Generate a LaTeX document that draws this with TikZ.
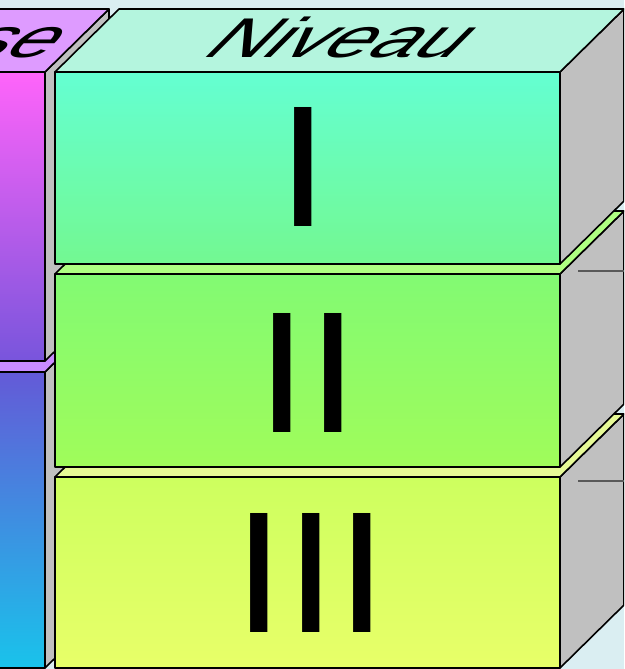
\documentclass[tikz,border=0pt]{standalone}
\usepackage{fontspec}
\setmainfont{Liberation Sans}
\definecolor{bgblue}{RGB}{218,238,242}
\definecolor{sidegray}{RGB}{192,192,192}
\definecolor{maintop}{RGB}{180,245,222}
\definecolor{oneup}{RGB}{100,255,210}
\definecolor{onedown}{RGB}{115,248,145}
\definecolor{twotop}{RGB}{175,255,130}
\definecolor{twoup}{RGB}{130,250,115}
\definecolor{twodown}{RGB}{160,252,90}
\definecolor{threetop}{RGB}{230,250,150}
\definecolor{threeup}{RGB}{205,255,95}
\definecolor{threedown}{RGB}{232,255,105}
\definecolor{lefttop}{RGB}{222,155,255}
\definecolor{upperup}{RGB}{255,100,250}
\definecolor{upperdown}{RGB}{120,85,220}
\definecolor{lowertop}{RGB}{200,140,255}
\definecolor{lowerup}{RGB}{100,90,215}
\definecolor{lowerdown}{RGB}{25,195,235}

\begin{document}
\begin{tikzpicture}[x=1pt,y=1pt,line width=1.6pt,line join=round]
\tikzset{
  tilted/.style={inner sep=0pt,font=\fontsize{56}{60}\selectfont,transform shape},
  roman/.style={anchor=base,inner sep=0pt,font=\fontsize{173}{180}\selectfont,transform shape},
  sideline/.style={line width=1.2pt,black!65}
}
\useasboundingbox (0,0) rectangle (624,669);
\clip (0,0) rectangle (624,669);
\fill[bgblue] (0,0) rectangle (624,669);
\def\dx{64}
\def\dy{63}
% left column
\foreach \yb/\yt/\ctop/\cup/\cdown in {1/297/lowertop/lowerup/lowerdown, 308/597/lefttop/upperup/upperdown} {
  \draw[fill=sidegray] (45,\yb) -- (45,\yt) -- ++(\dx,\dy) -- (45+\dx,\yb+\dy) -- cycle;
  \draw[fill=\ctop] (-80,\yt) -- (45,\yt) -- ++(\dx,\dy) -- (-80+\dx,\yt+\dy) -- cycle;
  \draw[top color=\cup,bottom color=\cdown] (-80,\yb) rectangle (45,\yt);
}
% main column, levels III, II, I
\foreach \yb/\yt/\ctop/\cup/\cdown in {1/192/threetop/threeup/threedown, 202/395/twotop/twoup/twodown, 405/597/maintop/oneup/onedown} {
  \draw[fill=sidegray] (560,\yb) -- (560,\yt) -- ++(\dx,\dy) -- (560+\dx,\yb+\dy) -- cycle;
  \draw[fill=\ctop] (55,\yt) -- (560,\yt) -- ++(\dx,\dy) -- (55+\dx,\yt+\dy) -- cycle;
  \draw[top color=\cup,bottom color=\cdown] (55,\yb) rectangle (560,\yt);
}
\draw[sideline] (578,398) -- (624,398);
\draw[sideline] (578,188) -- (624,188);
% headings
\begin{scope}[shift={(326,611)},xslant=1,xscale=1.45]
  \node[tilted,anchor=base] (niveau) at (0,0) {Niveau};
\end{scope}
\begin{scope}[shift={(46,611)},xslant=1,xscale=1.45]
  \node[tilted,anchor=base east] (phase) at (0,0) {se};
\end{scope}
% level numbers
\begin{scope}[shift={(303,442)},xscale=1.07]
  \node[roman] (lvlone) at (0,0) {I};
\end{scope}
\begin{scope}[shift={(307.5,236)},xscale=1.07]
  \node[roman] (lvltwo) at (0,0) {II};
\end{scope}
\begin{scope}[shift={(311,36)},xscale=1.07]
  \node[roman] (lvlthree) at (0,0) {III};
\end{scope}
\end{tikzpicture}
\end{document}
